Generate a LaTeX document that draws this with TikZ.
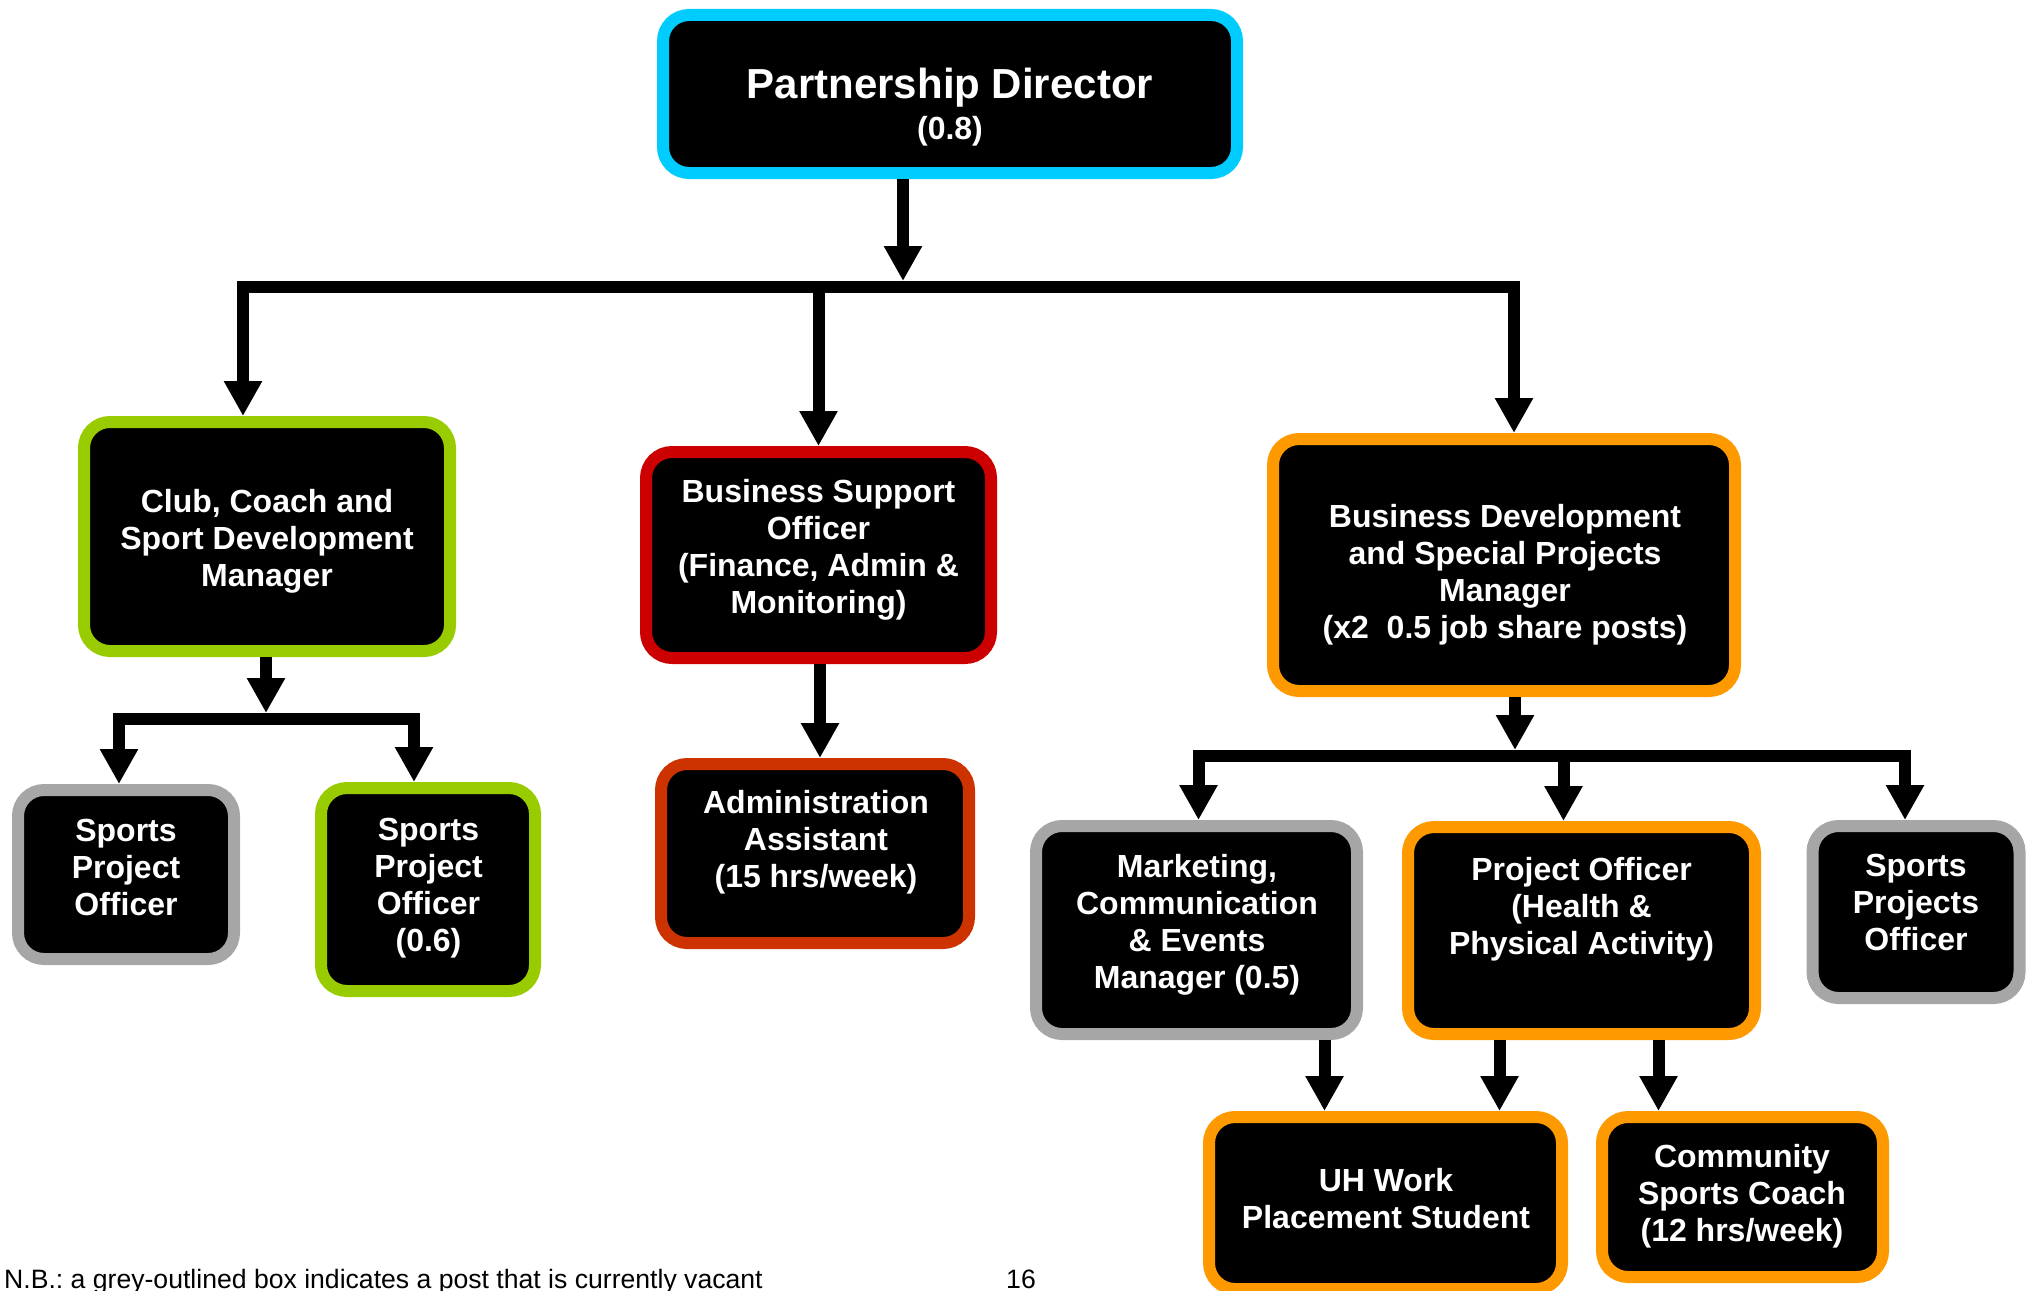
\documentclass[tikz,border=0pt]{standalone}
\usepackage{fontspec}
\setmainfont{Liberation Sans}
\usetikzlibrary{arrows.meta}
\frenchspacing
\definecolor{pdcyan}{HTML}{00CCFF}
\definecolor{leafgreen}{HTML}{99CC00}
\definecolor{supportred}{HTML}{CC0000}
\definecolor{adminred}{HTML}{CC3300}
\definecolor{devorange}{HTML}{FF9900}
\definecolor{vacantgrey}{HTML}{A6A6A6}
\tikzset{
  post/.style={draw=#1, fill=black, line width=12pt, rounded corners=26pt},
  txt/.style={text=white, align=center, font=\bfseries\fontsize{32}{37}\selectfont},
  feed/.style={line width=12pt, -{Triangle[width=36pt,length=35pt]}},
  note/.style={font=\fontsize{26.6}{30}\selectfont, inner sep=0pt}
}
\begin{document}
\begin{tikzpicture}[x=1pt, y=-1pt]
  \useasboundingbox (0,0) rectangle (2031,1290);
  \node[post=pdcyan, minimum width=574pt, minimum height=158pt] (pd) at (950,94) {};
  \node[post=leafgreen, minimum width=366pt, minimum height=229pt] (club) at (267,536.5) {};
  \node[post=supportred, minimum width=345pt, minimum height=206pt] (bso) at (818.5,555) {};
  \node[post=devorange, minimum width=462pt, minimum height=252pt] (busdev) at (1504,565) {};
  \node[post=vacantgrey, minimum width=216pt, minimum height=169pt] (spol) at (126,874.5) {};
  \node[post=leafgreen, minimum width=214pt, minimum height=203pt] (spor) at (428,889.5) {};
  \node[post=adminred, minimum width=308pt, minimum height=179pt] (admin) at (815,853.5) {};
  \node[post=vacantgrey, minimum width=321pt, minimum height=208pt] (mkt) at (1196.5,930) {};
  \node[post=devorange, minimum width=347pt, minimum height=207pt] (po) at (1581.5,930.5) {};
  \node[post=vacantgrey, minimum width=207pt, minimum height=172pt] (spo2) at (1916,912) {};
  \node[post=devorange, minimum width=353pt, minimum height=172pt] (uh) at (1385.5,1203) {};
  \node[post=devorange, minimum width=281pt, minimum height=160pt] (comm) at (1742.5,1197) {};
  \node[txt, font=\bfseries\fontsize{32}{40.5}\selectfont] (pd-t) at (950,107)
    {{\fontsize{42}{40.5}\selectfont Partnership Director}\\(0.8)};
  \node[txt] (club-t) at (267,541) {Club, Coach and\\Sport Development\\Manager};
  \node[txt] (bso-t) at (818.5,550) {Business Support\\Officer\\(Finance, Admin \&\\Monitoring)};
  \node[txt] (busdev-t) at (1505,575) {Business Development\\and Special Projects\\Manager\\(x2~ 0.5 job share posts)};
  \node[txt] (spol-t) at (126,867) {Sports\\Project\\Officer};
  \node[txt] (spor-t) at (428.5,888) {Sports\\Project\\Officer\\(0.6)};
  \node[txt] (admin-t) at (816,842) {Administration\\Assistant\\(15 hrs/week)};
  \node[txt] (mkt-t) at (1197,925) {Marketing,\\Communication\\\& Events\\Manager (0.5)};
  \node[txt] (po-t) at (1581.5,909) {Project Officer\\(Health \&\\Physical Activity)};
  \node[txt] (spo2-t) at (1916,902) {Sports\\Projects\\Officer};
  \node[txt] (uh-t) at (1386,1199) {UH Work\\Placement Student};
  \node[txt] (comm-t) at (1742,1196) {Community\\Sports Coach\\(12 hrs/week)};
  \coordinate (b1) at (903,287);
  \coordinate (b2) at (266,719);
  \coordinate (b3) at (1515,756);
  \draw[feed] (pd.south -| b1) -- ([yshift=6pt]b1);
  \draw[feed] (b1) -| ([xshift=-24pt]club.north);
  \draw[feed] (b1 -| bso.north) -- (bso.north);
  \draw[feed] (b1) -| ([xshift=10pt]busdev.north);
  \draw[feed] (club.south -| b2) -- ([yshift=6pt]b2);
  \draw[feed] (b2) -| ([xshift=-7pt]spol.north);
  \draw[feed] (b2) -| ([xshift=-14pt]spor.north);
  \draw[feed] ([xshift=1.5pt]bso.south) -- ([xshift=1.5pt]bso.south |- admin.north);
  \draw[feed] (busdev.south -| b3) -- ([yshift=6pt]b3);
  \draw[feed] (b3) -| ([xshift=2pt]mkt.north);
  \draw[feed] ([xshift=-18pt]po.north |- b3) -- ([xshift=-18pt]po.north);
  \draw[feed] (b3) -| ([xshift=-11pt]spo2.north);
  \draw[feed] ([xshift=128pt]mkt.south) -- ([xshift=128pt]mkt.south |- uh.north);
  \draw[feed] ([xshift=-82pt]po.south) -- ([xshift=-82pt]po.south |- uh.north);
  \draw[feed] ([xshift=77pt]po.south) -- ([xshift=77pt]po.south |- comm.north);
  \node[note, anchor=base west] (nb) at (4,1288) {N.B.: a grey-outlined box indicates a post that is currently vacant};
  \node[note, anchor=base west] (pg) at (1006,1288) {16};
\end{tikzpicture}
\end{document}
